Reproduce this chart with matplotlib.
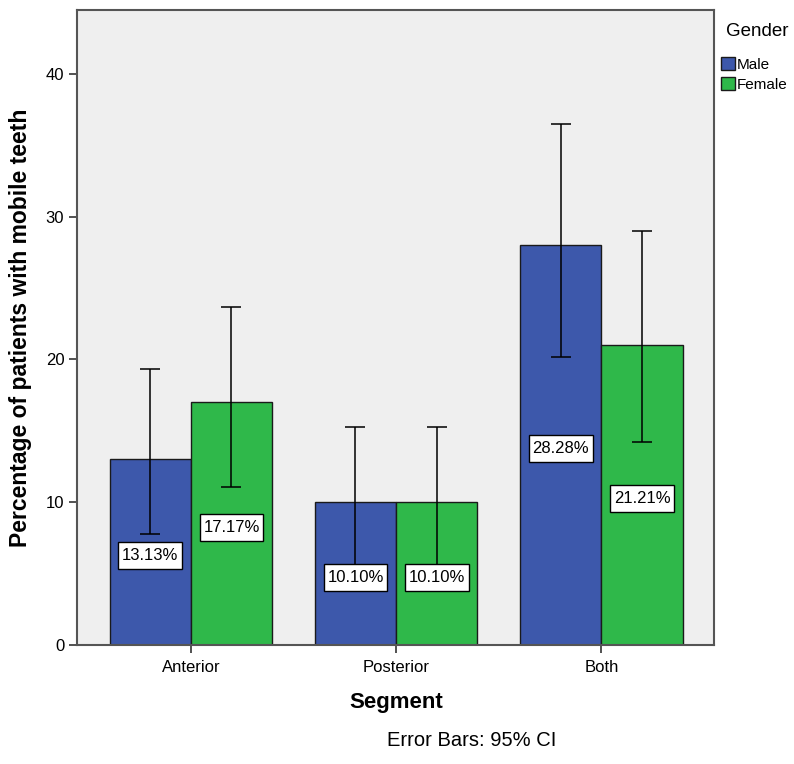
import numpy as np
import matplotlib
matplotlib.use("Agg")
import matplotlib.pyplot as plt
from matplotlib.path import Path

plt.rcParams['font.family'] = ['Liberation Sans', 'DejaVu Sans']

segments = ['Anterior', 'Posterior', 'Both']
male = [13, 10, 28]
female = [17, 10, 21]
male_lo = [7.8, 5.6, 20.2]
male_hi = [19.3, 15.3, 36.5]
female_lo = [11.1, 5.6, 14.2]
female_hi = [23.7, 15.3, 29.0]
male_lbl = ['13.13%', '10.10%', '28.28%']
female_lbl = ['17.17%', '10.10%', '21.21%']

c_male = '#3d58ab'
c_female = '#2fb84a'


def label_box(x0, y0, width, height, mutation_size):
    # plain rectangle, a bit taller than wide padding
    px = 0.22 * mutation_size
    py = 0.36 * mutation_size
    x0, y0 = x0 - px, y0 - py
    x1, y1 = x0 + width + 2 * px, y0 + height + 2 * py
    return Path([(x0, y0), (x1, y0), (x1, y1), (x0, y1), (x0, y0)], closed=True)


fig = plt.figure(figsize=(7.94, 7.64), dpi=100)
ax = fig.add_axes([0.0976, 0.1558, 0.802, 0.8305])
ax.set_facecolor('#efefef')

x = np.arange(len(segments))
w = 0.396

male = np.array(male)
female = np.array(female)
b1 = ax.bar(x - w / 2, male, w, color=c_male, edgecolor='#1a1a1a', linewidth=1, label='Male')
b2 = ax.bar(x + w / 2, female, w, color=c_female, edgecolor='#1a1a1a', linewidth=1, label='Female')

m_err = [male - np.array(male_lo), np.array(male_hi) - male]
f_err = [female - np.array(female_lo), np.array(female_hi) - female]
ax.errorbar(x - w / 2, male, yerr=m_err, fmt='none', ecolor='black', elinewidth=1.1, capsize=7.5, capthick=1.1)
ax.errorbar(x + w / 2, female, yerr=f_err, fmt='none', ecolor='black', elinewidth=1.1, capsize=7.5, capthick=1.1)

box = dict(boxstyle=label_box, facecolor='white', edgecolor='black', linewidth=1)
for i in range(len(segments)):
    ax.text(x[i] - w / 2, male[i] / 2 - 0.25, male_lbl[i], ha='center', va='center', fontsize=12, bbox=box, zorder=5)
    ax.text(x[i] + w / 2, female[i] / 2 - 0.25, female_lbl[i], ha='center', va='center', fontsize=12, bbox=box, zorder=5)

ax.set_xlim(-0.552, 2.55)
ax.set_ylim(0, 44.45)
ax.set_yticks([0, 10, 20, 30, 40])
ax.set_xticks(x)
ax.set_xticklabels(segments)
ax.tick_params(labelsize=12, length=6, width=1.2, color='#333333')
ax.tick_params(axis='x', pad=5)
for s in ax.spines.values():
    s.set_color('#555555')
    s.set_linewidth(1.5)

ax.set_xlabel('Segment', fontsize=16, fontweight='bold', labelpad=12)
ax.set_ylabel('Percentage of patients with mobile teeth', fontsize=16.5, fontweight='bold', labelpad=10)

fig.text(726 / 794, 1 - 32 / 764, 'Gender', ha='left', va='center', fontsize=13.5)
leg = fig.legend(handles=[b1, b2], loc='upper left', bbox_to_anchor=(718 / 794, 1 - 54 / 764),
                 frameon=False, fontsize=11, handlelength=0.9, handleheight=0.95,
                 handletextpad=0.15, labelspacing=0.35, borderpad=0.2, borderaxespad=0)

fig.text(0.594, 0.018, 'Error Bars: 95% CI', ha='center', va='bottom', fontsize=14.5)

fig.savefig('out.png', dpi=100)
